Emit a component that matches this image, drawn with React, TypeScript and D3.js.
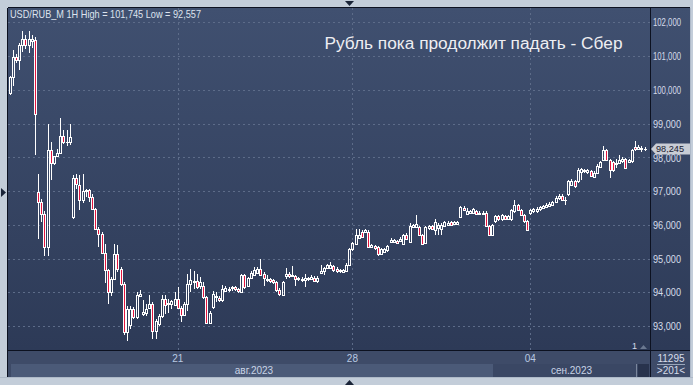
import React from 'react';
import * as d3 from 'd3';

const W = 693;
const H = 385;

// ---- data (USD/RUB_M, 1H candles, 14 Aug – 7 Sep 2023) ----
const opens = [
  99.9, 100.38, 100.96, 100.88, 101.33, 101.5, 101.33, 101.45, 101.47, 96.97,
  96.68, 96.33, 95.34, 98.21, 97.82, 98.03, 98.14, 98.63, 98.44, 98.44,
  96.23, 97.4, 97.17, 96.73, 96.99, 97.03, 96.83, 96.48, 95.87, 95.74,
  95.17, 94.65, 94.01, 94.4, 95.12, 94.7, 94.25, 92.82, 93.02, 93.49,
  93.27, 93.89, 93.36, 93.39, 93.53, 93.66, 92.84, 93.07, 93.3, 93.79,
  93.66, 93.66, 93.63, 93.8, 93.53, 93.33, 93.66, 94.25, 94.3, 94.32,
  94.2, 94.2, 93.86, 93.09, 93.56, 93.85, 93.83, 93.76, 94.05, 94.08,
  94.12, 94.17, 94.1, 94.01, 94.5, 94.2, 94.42, 94.52, 94.58, 94.7,
  94.55, 94.35, 94.38, 94.35, 94.3, 94.08, 93.93, 94.48, 94.55, 94.48,
  94.48, 94.38, 94.35, 94.35, 94.38, 94.4, 94.42, 94.32, 94.58, 94.62,
  94.72, 94.73, 94.77, 94.7, 94.65, 94.6, 94.62, 94.82, 95.27, 95.44,
  95.61, 95.8, 95.79, 95.8, 95.34, 95.37, 95.34, 95.14, 95.19, 95.24,
  95.49, 95.49, 95.52, 95.51, 95.44, 95.71, 95.49, 95.93, 95.93, 95.93,
  95.71, 95.47, 95.9, 95.97, 95.84, 95.91, 95.89, 95.97, 95.99, 96.07,
  96.01, 96.03, 96.23, 96.51, 96.32, 96.36, 96.36, 96.4, 96.33, 96.33,
  96.36, 95.97, 95.71, 96.1, 96.26, 96.16, 96.25, 96.18, 96.16, 96.4,
  96.58, 96.43, 96.28, 96.1, 96.36, 96.4, 96.4, 96.46, 96.5, 96.53,
  96.56, 96.6, 96.68, 96.78, 96.85, 96.74, 96.9, 97.17, 97.29, 97.29,
  97.57, 97.62, 97.57, 97.59, 97.42, 97.55, 97.72, 97.91, 98.21, 97.91,
  97.86, 97.79, 97.84, 97.88, 97.94, 97.86, 97.88, 98.31, 98.26, 98.28,
  98.25,
];

const highs = [
  100.42, 101.17, 101.05, 101.38, 101.74, 101.62, 101.74, 101.62, 101.56, 97.52,
  96.75, 96.4, 98.98, 98.44, 98.05, 98.25, 99.18, 98.8, 98.8, 99.0,
  97.47, 97.5, 97.49, 97.5, 97.07, 97.07, 96.9, 96.5, 95.94, 95.8,
  95.44, 94.7, 94.45, 95.44, 95.4, 94.75, 94.3, 93.6, 93.6, 93.55,
  94.0, 94.08, 93.76, 93.66, 93.91, 93.72, 93.2, 93.35, 93.91, 93.91,
  93.8, 93.76, 94.0, 94.16, 93.6, 93.7, 94.55, 94.7, 94.62, 94.55,
  94.45, 94.3, 93.9, 93.45, 94.05, 94.0, 93.9, 94.22, 94.18, 94.15,
  94.2, 94.2, 94.14, 94.55, 94.55, 94.45, 94.62, 94.75, 94.75, 94.98,
  94.6, 94.52, 94.42, 94.4, 94.33, 94.12, 94.32, 94.72, 94.6, 94.77,
  94.52, 94.45, 94.45, 94.55, 94.46, 94.5, 94.47, 94.47, 94.82, 94.76,
  94.84, 94.9, 94.82, 94.74, 94.7, 94.7, 94.86, 95.3, 95.5, 95.88,
  95.87, 95.85, 95.87, 95.84, 95.42, 95.41, 95.37, 95.3, 95.3, 95.41,
  95.61, 95.58, 95.56, 95.63, 95.72, 95.75, 96.06, 96.03, 96.28, 95.97,
  95.74, 95.96, 96.0, 96.0, 96.16, 96.05, 96.05, 96.12, 96.1, 96.1,
  96.1, 96.12, 96.56, 96.55, 96.5, 96.45, 96.5, 96.44, 96.4, 96.4,
  96.4, 96.0, 96.02, 96.3, 96.3, 96.32, 96.3, 96.3, 96.46, 96.73,
  96.62, 96.47, 96.32, 96.14, 96.46, 96.5, 96.52, 96.56, 96.6, 96.64,
  96.68, 96.72, 96.84, 96.9, 96.9, 96.83, 97.32, 97.37, 97.33, 97.67,
  97.69, 97.66, 97.66, 97.63, 97.6, 97.8, 97.9, 98.34, 98.25, 97.95,
  97.9, 97.96, 98.08, 98.0, 97.98, 97.96, 98.24, 98.48, 98.36, 98.34,
  98.31,
];

const lows = [
  99.84, 100.1, 100.8, 100.6, 101.13, 101.2, 101.1, 101.25, 98.06, 95.59,
  96.08, 95.08, 95.08, 97.32, 97.78, 98.0, 98.1, 98.4, 98.34, 98.36,
  96.18, 97.07, 96.43, 96.65, 96.83, 96.68, 96.45, 95.84, 95.34, 95.14,
  94.28, 93.66, 93.9, 94.35, 94.6, 94.2, 92.72, 92.56, 92.92, 93.2,
  93.2, 93.85, 93.3, 93.3, 93.5, 92.6, 92.6, 93.0, 93.25, 93.36,
  93.4, 93.5, 93.6, 93.5, 93.12, 93.3, 93.43, 94.0, 94.1, 94.1,
  94.1, 93.8, 93.05, 93.05, 93.5, 93.7, 93.7, 93.72, 94.0, 94.02,
  94.05, 94.05, 93.99, 93.98, 94.1, 94.15, 94.38, 94.48, 94.55, 94.5,
  94.2, 94.3, 94.28, 94.25, 94.0, 93.9, 93.9, 94.4, 94.42, 94.45,
  94.2, 94.33, 94.3, 94.15, 94.34, 94.36, 94.3, 94.28, 94.55, 94.5,
  94.68, 94.7, 94.6, 94.58, 94.58, 94.57, 94.6, 94.8, 95.22, 95.4,
  95.58, 95.6, 95.75, 95.3, 95.3, 95.25, 95.07, 95.1, 95.15, 95.2,
  95.45, 95.45, 95.44, 95.48, 95.41, 95.55, 95.46, 95.9, 95.9, 95.68,
  95.4, 95.44, 95.85, 95.84, 95.71, 95.71, 95.71, 95.94, 95.96, 95.96,
  95.98, 96.0, 96.2, 96.4, 96.3, 96.33, 96.33, 96.3, 96.3, 96.3,
  95.94, 95.66, 95.66, 96.05, 96.12, 96.12, 96.14, 96.14, 96.12, 96.36,
  96.4, 96.25, 96.06, 95.82, 96.3, 96.36, 96.36, 96.42, 96.46, 96.5,
  96.52, 96.56, 96.64, 96.74, 96.7, 96.58, 96.86, 97.14, 97.1, 97.25,
  97.32, 97.55, 97.52, 97.42, 97.38, 97.5, 97.68, 97.88, 97.88, 97.39,
  97.58, 97.67, 97.8, 97.84, 97.64, 97.82, 97.84, 98.2, 98.22, 98.16,
  98.18,
];

const closes = [
  100.38, 100.96, 100.88, 101.33, 101.5, 101.33, 101.5, 101.5, 99.27, 96.68,
  96.33, 95.34, 98.21, 97.82, 98.03, 98.14, 98.63, 98.44, 98.46, 98.59,
  97.4, 97.2, 96.73, 96.99, 97.03, 96.83, 96.48, 95.87, 95.74, 95.17,
  94.65, 94.01, 94.4, 95.12, 94.7, 94.25, 92.82, 93.51, 93.49, 93.27,
  93.91, 93.96, 93.41, 93.51, 93.66, 92.84, 93.14, 93.3, 93.79, 93.63,
  93.69, 93.73, 93.8, 93.53, 93.33, 93.66, 94.25, 94.35, 94.34, 94.17,
  94.3, 93.86, 93.09, 93.39, 93.96, 93.88, 93.76, 94.1, 94.12, 94.1,
  94.17, 94.1, 94.03, 94.5, 94.15, 94.42, 94.58, 94.65, 94.7, 94.52,
  94.42, 94.38, 94.32, 94.3, 94.08, 93.96, 94.3, 94.55, 94.48, 94.52,
  94.38, 94.42, 94.4, 94.42, 94.42, 94.45, 94.34, 94.43, 94.62, 94.72,
  94.8, 94.8, 94.65, 94.62, 94.62, 94.65, 94.82, 95.27, 95.47, 95.69,
  95.71, 95.64, 95.84, 95.34, 95.39, 95.31, 95.14, 95.27, 95.27, 95.37,
  95.54, 95.54, 95.47, 95.59, 95.69, 95.59, 95.97, 96.0, 96.03, 95.71,
  95.44, 95.93, 95.96, 95.87, 96.08, 95.99, 96.0, 96.07, 96.05, 95.99,
  96.07, 96.08, 96.53, 96.43, 96.4, 96.4, 96.46, 96.33, 96.36, 96.36,
  95.97, 95.71, 95.99, 96.26, 96.16, 96.28, 96.18, 96.26, 96.43, 96.58,
  96.43, 96.28, 96.1, 95.84, 96.43, 96.46, 96.48, 96.53, 96.55, 96.6,
  96.63, 96.68, 96.8, 96.86, 96.73, 96.73, 97.29, 97.29, 97.15, 97.62,
  97.64, 97.59, 97.62, 97.45, 97.55, 97.75, 97.85, 98.21, 97.91, 97.62,
  97.62, 97.84, 97.91, 97.94, 97.67, 97.91, 98.21, 98.24, 98.31, 98.24,
  98.245,
];

const priceTicks = [93, 94, 95, 96, 97, 98, 99, 100, 101, 102];
const dayTickIdx = [53, 108, 164];
const dayTickLabels = ['21', '28', '04'];
const monthLabelIdx = [77, 177];
const monthLabels = ['авг.2023', 'сен.2023'];
const lastPrice = 98.245;
const titleText = 'USD/RUB_M 1H High = 101,745 Low = 92,557';
const headline = 'Рубль пока продолжит падать - Сбер';

// ---- layout ----
const PL = 8, PR = 650, PT = 8, PB = 350;
const FONT = '"Liberation Sans", Arial, sans-serif';

const x = d3.scaleLinear().domain([0, opens.length - 1]).range([9.5, 644.5]);
const y = d3.scaleLinear().domain([93, 102]).range([326, 22.4]);
const fmtLast = (v: number) => d3.format('.3f')(v).replace('.', ',');
const fmtTick = (v: number) => `${v},000`;

export default function App() {
  const sn = (v: number) => Math.round(v);
  const yLast = y(lastPrice);
  return (
    <svg width={W} height={H} style={{ position: 'absolute', left: 0, top: 0, display: 'block' }}
      fontFamily={FONT}>
      <defs>
        <linearGradient id="bg" x1="0" y1="0" x2="0" y2="1">
          <stop offset="0" stopColor="#405070" />
          <stop offset="1" stopColor="#2d3a57" />
        </linearGradient>
      </defs>
      {/* outer frame */}
      <rect x={0} y={0} width={W} height={H} fill="#c3cdd9" />
      <rect x={PL} y={PT} width={690 - PL} height={377 - PT} fill="#3d4a67" />
      {/* plot + right axis background */}
      <rect x={PL} y={PT} width={690 - PL} height={PB - PT} fill="url(#bg)" />
      {/* lower strips */}
      <rect x={PL} y={PB} width={PR - PL} height={14} fill="#3e4b68" />
      <rect x={11} y={364} width={493 - 11} height={13} fill="#4b5a78" />
      <rect x={493} y={364} width={636 - 493} height={13} fill="#3a4764" />
      <line x1={636.5} x2={636.5} y1={364} y2={377} stroke="#7a869c" />
      <rect x={638} y={364} width={11} height={13} fill="#28334d" />
      <rect x={651} y={PB} width={39} height={27} fill="#3e4b68" />

      {/* grid */}
      {priceTicks.map((p) => (
        <line key={'h' + p} x1={PL} x2={PR} y1={sn(y(p)) + 0.5} y2={sn(y(p)) + 0.5}
          stroke="#5d6c89" strokeDasharray="2,3" />
      ))}
      {dayTickIdx.map((d) => (
        <line key={'v' + d} x1={sn(x(d)) + 0.5} x2={sn(x(d)) + 0.5} y1={PT} y2={PB}
          stroke="#5d6c89" strokeDasharray="2,3" />
      ))}

      {/* candles */}
      {opens.map((o, i) => {
        const c = closes[i];
        const cx = sn(x(i));
        const yH = sn(y(highs[i]));
        const yL = sn(y(lows[i]));
        const yT = sn(y(Math.max(o, c)));
        const yB = sn(y(Math.min(o, c)));
        const up = c >= o;
        const doji = yB - yT < 1;
        return (
          <g key={i}>
            <line x1={cx + 0.5} x2={cx + 0.5} y1={yH} y2={yT} stroke="#ffffff" />
            <line x1={cx + 0.5} x2={cx + 0.5} y1={yB} y2={yL} stroke="#ffffff" />
            {doji ? (
              <line x1={cx - 1} x2={cx + 2} y1={yT + 0.5} y2={yT + 0.5} stroke="#ffffff" />
            ) : (
              <rect x={cx - 0.5} y={yT + 0.5} width={2} height={yB - yT} fill={up ? 'none' : '#e3143e'}
                stroke="#ffffff" />
            )}
          </g>
        );
      })}

      {/* frame lines */}
      <line x1={PL - 0.5} x2={PL - 0.5} y1={PT} y2={377} stroke="#0c1120" />
      <line x1={PL} x2={690} y1={PT - 0.5} y2={PT - 0.5} stroke="#0c1120" />
      <line x1={PL} x2={690} y1={PB + 0.5} y2={PB + 0.5} stroke="#0c1120" />
      <line x1={PR + 0.5} x2={PR + 0.5} y1={PT} y2={377} stroke="#0c1120" />
      <line x1={0} x2={W} y1={377.5} y2={377.5} stroke="#aeb9c8" />
      <line x1={690.5} x2={690.5} y1={PT} y2={377} stroke="#aeb9c8" />

      {/* price axis labels */}
      {priceTicks.map((p) => (
        <text key={'t' + p} x={653} y={y(p) + (p === 98 ? 5 : 4)} fontSize={10} fill="#d6dcea"
          textLength={28} lengthAdjust="spacingAndGlyphs">{fmtTick(p)}</text>
      ))}

      {/* last price marker */}
      <path d={`M651,${yLast} L656,${yLast - 5.5} L690,${yLast - 5.5} L690,${yLast + 5.5} L656,${yLast + 5.5} Z`}
        fill="#c9cdd5" />
      <text x={656} y={yLast + 3.2} fontSize={9.5} fill="#1a2030" textLength={28}
        lengthAdjust="spacingAndGlyphs">{fmtLast(lastPrice)}</text>

      {/* x axis labels */}
      {dayTickIdx.map((d, k) => (
        <text key={'d' + d} x={x(d)} y={361.5} fontSize={10} fill="#b9c9e2" textAnchor="middle">
          {dayTickLabels[k]}
        </text>
      ))}
      {monthLabelIdx.map((d, k) => (
        <text key={'m' + d} x={x(d)} y={374} fontSize={10} fill="#c9d4e6" textAnchor="middle">
          {monthLabels[k]}
        </text>
      ))}

      {/* bottom right info */}
      <text x={671} y={361.5} fontSize={10} fill="#d6dcea" textAnchor="middle">11295</text>
      <line x1={657} x2={685} y1={364.5} y2={364.5} stroke="#9aa6ba" />
      <text x={671} y={374} fontSize={10} fill="#d6dcea" textAnchor="middle">&gt;201&lt;</text>
      <text x={634.5} y={349} fontSize={9} fill="#d6dcea" textAnchor="middle">1</text>
      <path d="M640,349 L643.5,345 L647,349 Z" fill="#6a7890" />

      {/* titles */}
      <text x={10} y={18} fontSize={10.5} fill="#dde3ee" textLength={191} lengthAdjust="spacingAndGlyphs">
        {titleText}
      </text>
      <text x={324.5} y={48.5} fontSize={16} fill="#eeeef2" textLength={298} lengthAdjust="spacingAndGlyphs">
        {headline}
      </text>

      {/* frame arrows */}
      <path d="M345,1 L354,1 L349.5,6 Z" fill="#1a2438" />
      <path d="M345,385 L354,385 L349.5,380 Z" fill="#1a2438" />
      <path d="M1,188 L6,192.5 L1,197 Z" fill="#1a2438" />
    </svg>
  );
}
